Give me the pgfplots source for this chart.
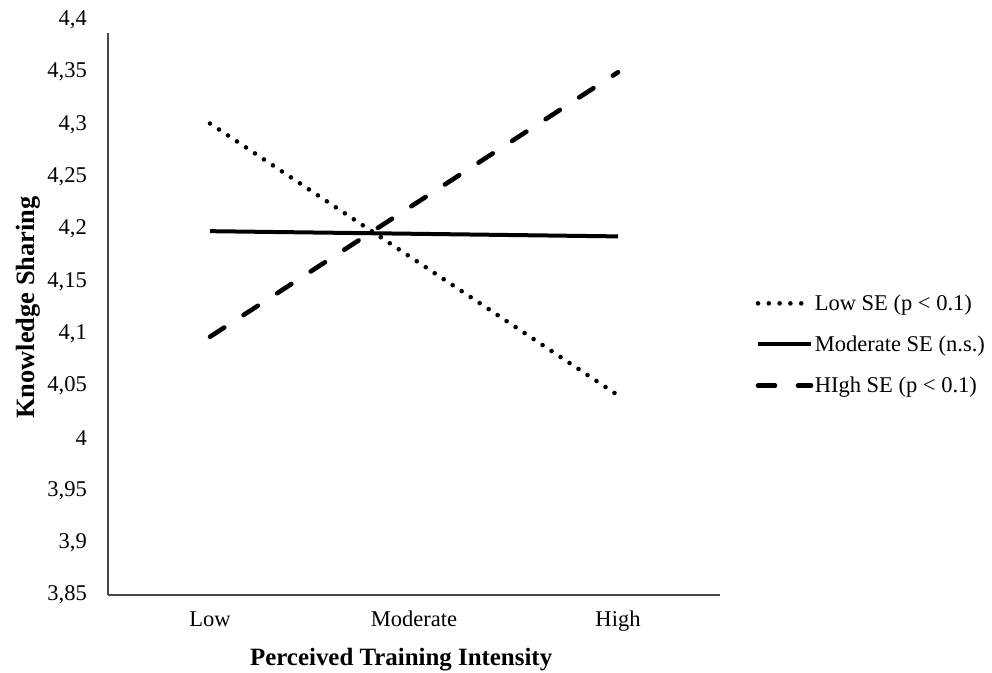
\documentclass[border=0pt]{standalone}
\usepackage{pgfplots}
\pgfplotsset{compat=1.18}
\usepackage{fontspec}
\setmainfont{Liberation Serif}
\begin{document}
\begin{tikzpicture}[x=1bp,y=1bp]
\path[use as bounding box] (0,0) rectangle (992,673);
\begin{axis}[
  at={(108bp,78bp)}, anchor=south west,
  scale only axis, width=612bp, height=575bp,
  xmin=-0.5, xmax=2.5, ymin=3.85, ymax=4.4,
  axis x line*=bottom, axis y line*=left,
  axis line style={draw=black!72, line width=1.6bp, -},
  y axis line style={shorten >=13bp},
  major tick length=0pt,
  xtick={0,1,2}, xticklabels={Low,Moderate,High},
  ytick={3.85,3.9,3.95,4,4.05,4.1,4.15,4.2,4.25,4.3,4.35,4.4},
  /pgf/number format/.cd, use comma, fixed, precision=2, assume math mode=true,
  /pgfplots/.cd,
  tick label style={font=\fontsize{22.6}{27}\selectfont},
  xticklabel style={anchor=base, yshift=-32bp, inner sep=0pt},
  yticklabel style={anchor=east, xshift=-21bp, inner sep=0pt},
  xlabel={\textbf{Perceived Training Intensity}},
  ylabel={\textbf{Knowledge Sharing}},
  label style={font=\fontsize{25}{29}\selectfont},
  xlabel style={at={(axis description cs:0.479,0)}, anchor=center, yshift=-65bp, inner sep=0pt},
  ylabel style={at={(axis description cs:0,0.5)}, anchor=center, yshift=80bp, inner sep=0pt, font=\fontsize{26.5}{30}\selectfont},
  legend style={at={(axis description cs:1.058,0.525)}, anchor=north west, draw=none, fill=none,
    font=\fontsize{22.6}{27}\selectfont, row sep=21bp, inner sep=0pt,
    nodes={inner sep=1.5bp}},
  legend cell align=left,
  legend image code/.code={\draw[#1] (0bp,0bp) -- (53bp,0bp);},
  clip=false,
]
\addplot[black, line width=4.6bp, line cap=round, dash pattern=on 0bp off 10.8bp]
  coordinates {(0,4.301) (1,4.171) (2,4.041)};
\addlegendentry{Low SE (p < 0.1)}
\addplot[black, line width=4bp]
  coordinates {(0,4.198) (1,4.1955) (2,4.193)};
\addlegendentry{Moderate SE (n.s.)}
\addplot[black, line width=4.6bp, line cap=round, dash pattern=on 17bp off 23bp]
  coordinates {(0,4.097) (1,4.2235) (2,4.350)};
\addlegendentry{HIgh SE (p < 0.1)}
\end{axis}
\end{tikzpicture}
\end{document}
